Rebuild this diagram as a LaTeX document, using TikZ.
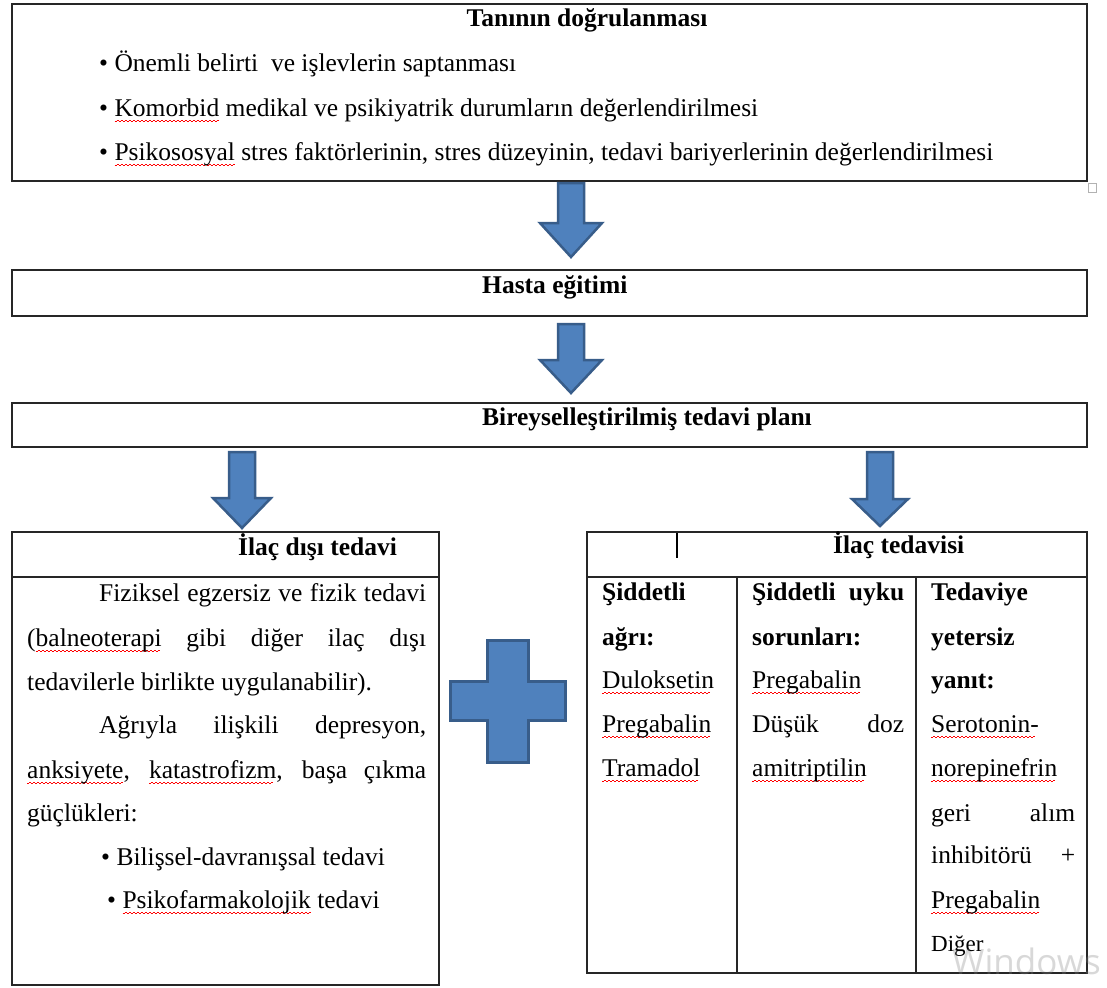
\documentclass[tikz,border=0pt]{standalone}
\usepackage{fontspec}
\setmainfont{Liberation Serif}
\newfontfamily\wmfont{Open Sans}
\definecolor{arrowfill}{HTML}{4F81BD}
\definecolor{arrowline}{HTML}{385D8A}
\newcommand\sq[1]{\leavevmode\setbox0\hbox{#1}\rlap{\lower4.5pt\hbox to\wd0{\color{red}\leaders\hbox to 4pt{\rule[-1pt]{2pt}{1.1pt}\rule{2pt}{1.1pt}}\hfill}}\box0\relax}
\newcommand\jl[2]{\makebox[#1][s]{#2}}
\newcommand\barrow[6]{%
  \draw[blu] ({#1-#5},#2) -- ({#1+#5},#2) -- ({#1+#5},#3) -- ({#1+#6},#3) -- (#1,#4)
     -- ({#1-#6},#3) -- ({#1-#5},#3) -- cycle;}
\begin{document}
\begin{tikzpicture}[x=1pt,y=-1pt,
  txt/.style={anchor=base west,inner sep=0pt,yshift=-2.5pt,font=\fontsize{25.5}{30}\selectfont},
  btxt/.style={anchor=base west,inner sep=0pt,yshift=-2.5pt,font=\fontsize{25.5}{30}\selectfont\bfseries},
  box/.style={draw=black!85,line width=1.6pt,anchor=north west,inner sep=0pt,outer sep=0pt},
  rule/.style={draw=black!85,line width=1.4pt},
  blu/.style={fill=arrowfill,draw=arrowline,line width=2.5pt,line join=miter}]
\useasboundingbox (0,0) rectangle (1107,987);
\fill[white] (0,0) rectangle (1107,987);

% boxes
\node[box,minimum width=1075pt,minimum height=177pt] (b1) at (12,4) {};
\node[box,minimum width=1075pt,minimum height=46pt] (b2) at (12,270) {};
\node[box,minimum width=1075pt,minimum height=44pt] (b3) at (12,403) {};
\node[box,minimum width=427pt,minimum height=453pt] (bl) at (12,532) {};
\node[box,minimum width=500pt,minimum height=441pt] (br) at (587,532) {};
\coordinate (hl1) at (12,577);
\coordinate (hl2) at (439,577);
\coordinate (hr1) at (587,577);
\coordinate (hr2) at (1087,577);
\coordinate (d1t) at (737,577);
\coordinate (d1b) at (737,973);
\coordinate (d2t) at (916,577);
\coordinate (d2b) at (916,973);
\draw[rule] (hl1) -- (hl2);
\draw[rule] (hr1) -- (hr2);
\draw[rule] (d1t) -- (d1b);
\draw[rule] (d2t) -- (d2b);
\draw[line width=2.5pt] (677,533) -- (677,558);
\draw[gray!60,line width=1pt] (1088,183) rectangle (1096,192);

% block arrows
\barrow{571}{183}{223}{257}{13}{31}
\barrow{571}{324}{360}{393}{13}{31}
\barrow{242}{452}{498}{528}{13}{29}
\barrow{880}{452}{499}{526}{13}{28}
\draw[blu,line width=3pt] (487,640) -- (528,640) -- (528,681) -- (565,681) -- (565,720) -- (528,720)
  -- (528,762) -- (487,762) -- (487,720) -- (450,720) -- (450,681) -- (487,681) -- cycle;

% top box
\node[btxt,anchor=base] (t1) at (587,24) {Tanının doğrulanması};
\node[txt] (t1a) at (99,69) {• Önemli belirti\ \ ve işlevlerin saptanması};
\node[txt] (t1b) at (99,114) {• \sq{Komorbid} medikal ve psikiyatrik durumların değerlendirilmesi};
\node[txt] (t1c) at (99,158) {• \sq{Psikososyal} stres faktörlerinin, stres düzeyinin, tedavi bariyerlerinin değerlendirilmesi};

\node[btxt] (t2) at (482,291) {Hasta eğitimi};
\node[btxt] (t3) at (482,423) {Bireyselleştirilmiş tedavi planı};

% left box
\node[btxt] (lh) at (238,553) {İlaç dışı tedavi};
\node[txt] (l1) at (99,599) {\jl{327pt}{Fiziksel egzersiz ve fizik tedavi}};
\node[txt] (l2) at (27,644) {\jl{399pt}{(\sq{balneoterapi} gibi diğer ilaç dışı}};
\node[txt] (l3) at (27,688) {tedavilerle birlikte uygulanabilir).};
\node[txt] (l4) at (99,731) {\jl{327pt}{Ağrıyla ilişkili depresyon,}};
\node[txt] (l5) at (27,776) {\jl{399pt}{\sq{anksiyete}, \sq{katastrofizm}, başa çıkma}};
\node[txt] (l6) at (27,819) {güçlükleri:};
\node[txt] (l7) at (101,863) {• Bilişsel-davranışsal tedavi};
\node[txt] (l8) at (107,906) {• \sq{Psikofarmakolojik} tedavi};

% right box
\node[btxt] (rh) at (833,551) {İlaç tedavisi};
\node[btxt] (c1a) at (602,598) {Şiddetli};
\node[btxt] (c1b) at (602,643) {ağrı:};
\node[txt] (c1c) at (602,686) {\sq{Duloksetin}};
\node[txt] (c1d) at (602,730) {\sq{Pregabalin}};
\node[txt] (c1e) at (602,774) {\sq{Tramadol}};

\node[btxt] (c2a) at (752,598) {\jl{152pt}{Şiddetli uyku}};
\node[btxt] (c2b) at (752,643) {sorunları:};
\node[txt] (c2c) at (752,686) {\sq{Pregabalin}};
\node[txt] (c2d) at (752,730) {\jl{152pt}{Düşük doz}};
\node[txt] (c2e) at (752,774) {\sq{amitriptilin}};

\node[btxt] (c3a) at (931,598) {Tedaviye};
\node[btxt] (c3b) at (931,643) {yetersiz};
\node[btxt] (c3c) at (931,686) {yanıt:};
\node[txt] (c3d) at (931,730) {\sq{Serotonin-}};
\node[txt] (c3e) at (931,774) {\sq{norepinefrin}};
\node[txt] (c3f) at (931,819) {\jl{144pt}{geri alım}};
\node[txt] (c3g) at (931,861) {\jl{144pt}{inhibitörü +}};
\node[txt] (c3h) at (931,906) {\sq{Pregabalin}};
\node[txt,font=\fontsize{23}{28}\selectfont] (c3i) at (931,949) {Diğer};

\node[anchor=base west,inner sep=0pt,font=\wmfont\fontsize{35}{40}\selectfont,text=gray,opacity=0.3] (wm) at (952,974) {Windows};
\end{tikzpicture}
\end{document}
